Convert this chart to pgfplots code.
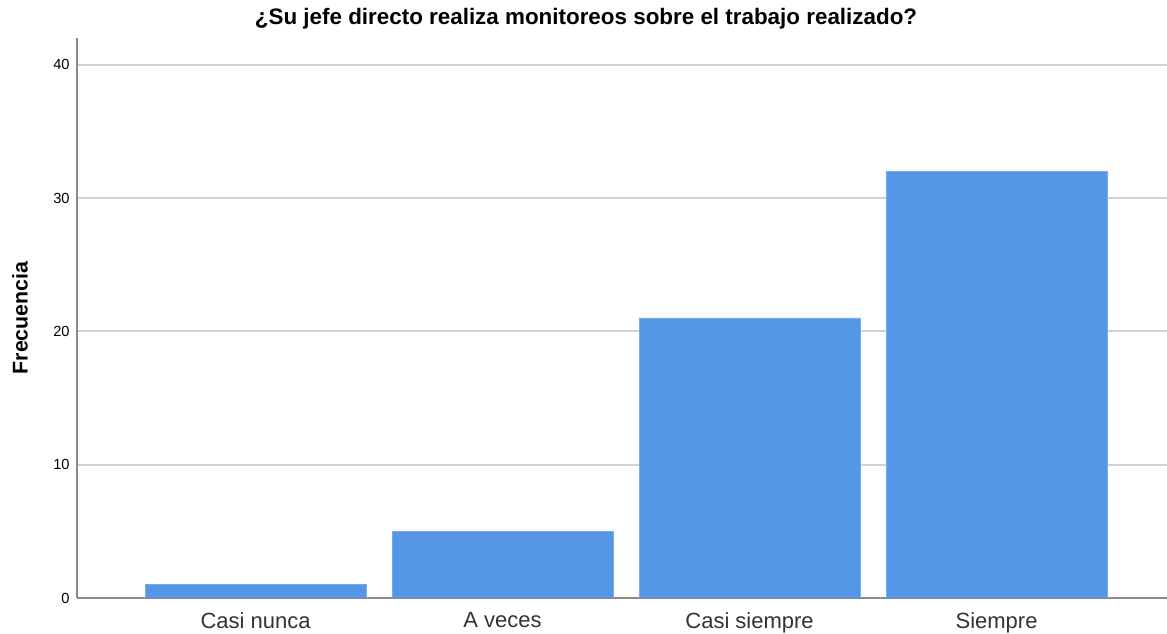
\documentclass[border=0pt]{standalone}
\usepackage{fontspec}
\setmainfont{Liberation Sans}
\usepackage{pgfplots}
\pgfplotsset{compat=1.18}
\usetikzlibrary{calc}
\definecolor{barblue}{HTML}{5596E6}
\definecolor{gridgray}{HTML}{D2D2D2}
\definecolor{axisgray}{HTML}{8A8A8A}

\begin{document}
\begin{tikzpicture}
  \begin{axis}[
    name=ax,
    scale only axis,
    width=817.5pt, height=420pt,
    axis x line*=bottom, axis y line*=left,
    axis line style={axisgray, line width=1.3pt, -},
    xmin=-0.723, xmax=3.69,
    ymin=0, ymax=42,
    xtick={0,1,2,3},
    xticklabels={Casi nunca, A veces, Casi siempre, Siempre},
    ytick={0,10,20,30,40},
    major tick length=0pt,
    ymajorgrids,
    grid style={gridgray, line width=1.4pt},
    /pgf/number format/assume math mode=true,
    xticklabel style={font=\fontsize{16.5}{19}\selectfont, color=black!80, yshift=-7.5pt},
    yticklabel style={font=\fontsize{11}{13}\selectfont, xshift=-2pt},
    ybar, bar width=0.895,
  ]
    \addplot[fill=barblue, draw=barblue!80!white, line width=0.6pt] coordinates {
      (0,1) (1,5) (2,21) (3,32)
    };
  \end{axis}
  \node[font=\bfseries\fontsize{16.8}{19}\selectfont] at ($(ax.north west)!0.467!(ax.north east)+(0,14.5pt)$) {¿Su jefe directo realiza monitoreos sobre el trabajo realizado?};
  \node[font=\bfseries\fontsize{16}{19}\selectfont, rotate=90] at ($(ax.west)+(-42.75pt,-0pt)$) {Frecuencia};
  \pgfresetboundingbox
  \path ($(ax.south west)+(-57.75pt,-27pt)$) rectangle ($(ax.north east)+(0,28.5pt)$);
\end{tikzpicture}
\end{document}
